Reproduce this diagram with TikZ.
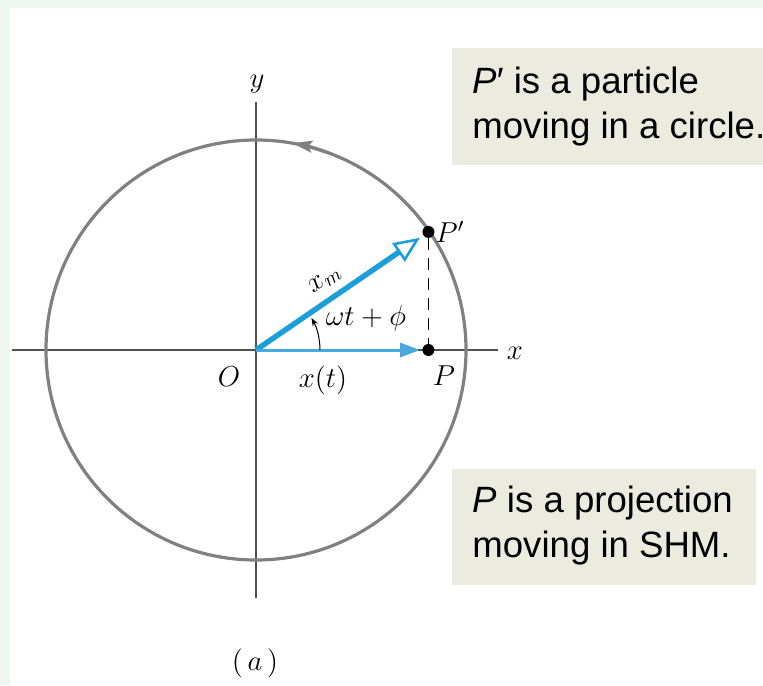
\documentclass[tikz,border=0pt]{standalone}
\usepackage{fontspec}
\usetikzlibrary{arrows.meta,positioning,calc}
\newfontfamily\notefont{Liberation Sans}
\definecolor{vecblue}{HTML}{1C9FD9}
\definecolor{projblue}{HTML}{48A8E0}
\definecolor{circgray}{HTML}{808080}
\definecolor{axisgray}{HTML}{505050}
\definecolor{notefill}{HTML}{EBEBE0}
\definecolor{framegreen}{HTML}{EEF6F1}

\begin{document}
\begin{tikzpicture}[x=0.5pt,y=0.5pt,
    dot/.style={circle,fill=black,inner sep=0pt,minimum size=6pt},
    lbl/.style={font=\fontsize{14.5}{16}\selectfont},
    note/.style={anchor=west,align=left,inner sep=0pt,font=\notefont\fontsize{18.3}{22.5}\selectfont}]
    % Frame
    \useasboundingbox (-256,-335) rectangle (507,350);
    \fill[white] (-256,-335) rectangle (507,350);
    \fill[framegreen] (-256,-335) rectangle (-246,350);
    \fill[framegreen] (-256,342) rectangle (507,350);

    % Notes
    \fill[notefill] (196,185) rectangle (507,302);
    \node[note] (note1) at (216,243) {\textit{P}′ is a particle\\moving in a circle.};
    \fill[notefill] (196,-235) rectangle (500,-119);
    \node[note] (note2) at (216,-176) {\textit{P} is a projection\\moving in SHM.};

    % Axes
    \coordinate (O) at (0,0);
    \coordinate (xl) at (-244,0);
    \coordinate (xr) at (242,0);
    \coordinate (yb) at (0,-248);
    \coordinate (yt) at (0,248);
    \draw[axisgray, line width=1.1pt] (xl) -- (xr);
    \draw[axisgray, line width=1.1pt] (yb) -- (yt);
    \node[lbl] (xlab) at (259,-3) {$x$};
    \node[lbl] (ylab) at (1,266) {$y$};
    \node[lbl] (olab) at (-27,-27) {$O$};

    % Circle
    \draw[circgray, line width=1.6pt] (O) circle (210);
    \draw[circgray, line width=1.6pt, -{Stealth[length=10pt,width=6pt,inset=2pt]}] (70:210) arc (70:80:210);

    % Points
    \node[dot] (Pp) at (34.4:209) {};
    \node[dot] (P) at (Pp |- O) {};
    \node[lbl] (pplab) at (194,118) {$P'$};
    \node[lbl] (plab) at (188,-26) {$P$};

    % Vectors
    \draw[black, line width=0.75pt, dash pattern=on 6pt off 4pt] (Pp) -- (P);
    \draw[vecblue, line width=2.7pt, shorten >=2pt, -{Triangle[open,length=13pt,width=11pt,line width=1.3pt]}] (O) -- (Pp);
    \draw[projblue, line width=1.5pt, shorten >=1pt, -{Triangle[length=10pt,width=7pt]}] (O) -- (P);
    \node[lbl, rotate=34.4] (xmlab) at (69,70) {$x_m$};
    \node[lbl] (xtlab) at (67,-30) {$x(t)$};

    % Angle
    \draw[black, line width=0.5pt, -{Stealth[length=4pt,width=3pt]}] (64,0) arc (0:30:64);
    \node[lbl] (anglab) at (110,32) {$\omega t+\phi$};

    \node[lbl] (caption) at (-1,-313) {$(\,a\,)$};
\end{tikzpicture}
\end{document}
